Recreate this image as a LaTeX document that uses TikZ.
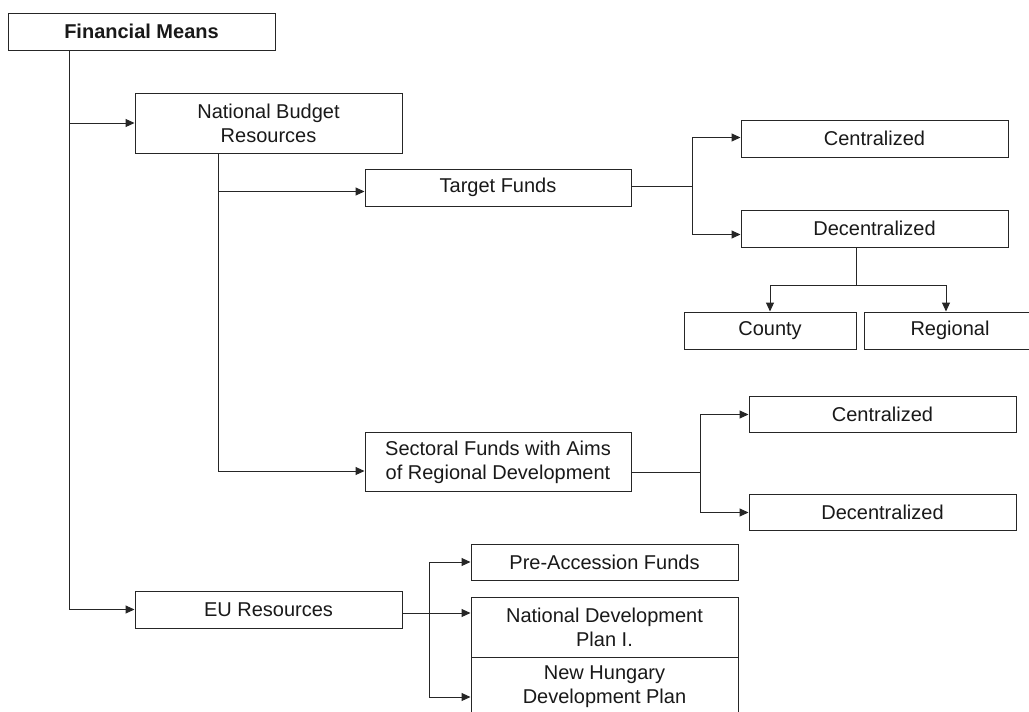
\documentclass[tikz,border=0pt]{standalone}
\usepackage{fontspec}
\setmainfont{Liberation Sans}
\usetikzlibrary{arrows.meta}
\begin{document}
\begin{tikzpicture}[x=1pt,y=-1pt,
  box/.style={draw=black!85, line width=1pt, inner sep=0pt, align=center,
    font=\fontsize{20}{24}\selectfont, text=black!90},
  conn/.style={draw=black!85, line width=1pt},
  arr/.style={conn, -{Triangle[length=9pt,width=8pt]}}]
\useasboundingbox (0,0) rectangle (1029,712);
\clip (0,0) rectangle (1029,712);
\fill[white] (0,0) rectangle (1029,712);
% nodes
\node[box, minimum width=267pt, minimum height=37pt, font=\fontsize{20}{24}\selectfont\bfseries] (fm) at (141.5,31.5) {Financial Means};
\node[box, minimum width=267pt, minimum height=60pt] (nbr) at (268.5,123) {National Budget\\Resources};
\node[box, minimum width=266pt, minimum height=37pt] (tf) at (498,187.5) {Target Funds};
\node[box, minimum width=267pt, minimum height=37pt] (c1) at (874.5,138.5) {Centralized};
\node[box, minimum width=267pt, minimum height=37pt] (d1) at (874.5,228.5) {Decentralized};
\node[box, minimum width=172pt, minimum height=37pt] (county) at (770,330.5) {County};
\node[box, minimum width=172pt, minimum height=37pt] (regional) at (950,330.5) {Regional};
\node[box, minimum width=266pt, minimum height=59pt] (sf) at (498,462) {Sectoral Funds with Aims\\of Regional Development};
\node[box, minimum width=267pt, minimum height=36pt] (c2) at (882.5,414.5) {Centralized};
\node[box, minimum width=267pt, minimum height=36pt] (d2) at (882.5,512.5) {Decentralized};
\node[box, minimum width=267pt, minimum height=37pt] (eu) at (268.5,609.5) {EU Resources};
\node[box, minimum width=267pt, minimum height=36pt] (pa) at (604.5,562) {Pre-Accession Funds};
\node[box, minimum width=267pt, minimum height=60pt] (ndp) at (604.5,627) {National Development\\Plan I.};
\node[box, minimum width=267pt, minimum height=60pt] (nhdp) at (604.5,687) {New Hungary\\Development Plan};
% trunk coordinates
\coordinate (t1) at (69,0);
\coordinate (t2) at (218,0);
\coordinate (t3) at (692,0);
\coordinate (t4) at (700,0);
\coordinate (t5) at (429,0);
\coordinate (t6) at (856,285);
% connectors
\draw[arr] (fm.south -| t1) |- (nbr.west);
\draw[arr] (fm.south -| t1) |- (eu.west);
\draw[arr] (nbr.south -| t2) |- ([yshift=-4pt]tf.west);
\draw[arr] (nbr.south -| t2) |- ([yshift=-9pt]sf.west);
\draw[conn] ([yshift=1pt]tf.east) -- ([yshift=1pt]tf.east -| t3);
\draw[arr] ([yshift=1pt]tf.east -| t3) |- ([yshift=1pt]c1.west);
\draw[arr] ([yshift=1pt]tf.east -| t3) |- ([yshift=-6pt]d1.west);
\draw[conn] (d1.south -| t6) -- (t6);
\draw[arr] (t6) -| (county.north);
\draw[arr] (t6) -| (regional.north -| 946,0);
\draw[conn] ([yshift=-10pt]sf.east) -- ([yshift=-10pt]sf.east -| t4);
\draw[arr] ([yshift=-10pt]sf.east -| t4) |- (c2.west);
\draw[arr] ([yshift=-10pt]sf.east -| t4) |- (d2.west);
\draw[conn] ([yshift=-3.5pt]eu.east) -- ([yshift=-3.5pt]eu.east -| t5);
\draw[arr] ([yshift=-3.5pt]eu.east -| t5) |- (pa.west);
\draw[arr] ([yshift=-3.5pt]eu.east) -- ([yshift=-3.5pt]eu.east -| ndp.west);
\draw[arr] ([yshift=-3.5pt]eu.east -| t5) |- ([yshift=-10pt]nhdp.west);
\end{tikzpicture}
\end{document}
